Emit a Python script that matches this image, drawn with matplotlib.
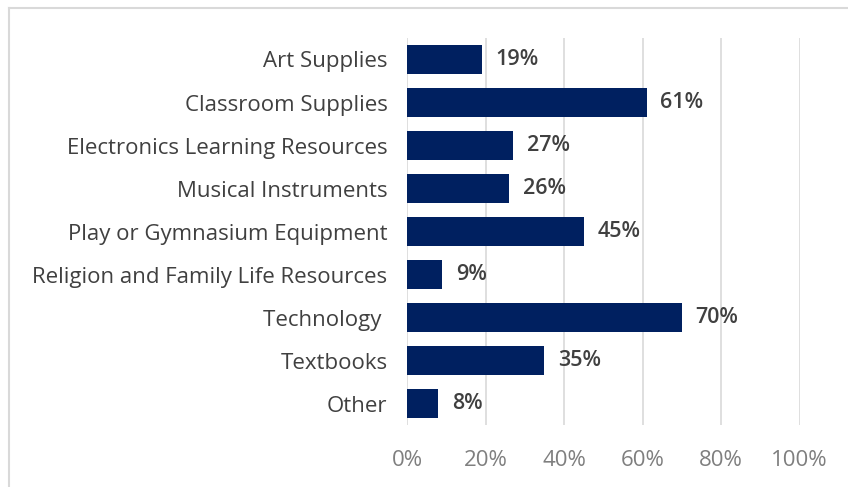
import matplotlib
matplotlib.use("Agg")
import matplotlib.pyplot as plt
from matplotlib.lines import Line2D

categories = [
    "Art Supplies",
    "Classroom Supplies",
    "Electronics Learning Resources",
    "Musical Instruments",
    "Play or Gymnasium Equipment",
    "Religion and Family Life Resources",
    "Technology ",
    "Textbooks",
    "Other",
]
values = [19, 61, 27, 26, 45, 9, 70, 35, 8]
ticks = [0, 20, 40, 60, 80, 100]
tick_labels = ["0%", "20%", "40%", "60%", "80%", "100%"]

plt.rcParams["font.family"] = ["Open Sans", "DejaVu Sans"]

fig = plt.figure(figsize=(8.48, 4.87), dpi=100)
ax = fig.add_axes([0.48, 0.127, 0.463, 0.795])

y = list(range(len(categories)))
ax.barh(y, values, height=0.68, color="#002060")
for yi, v in zip(y, values):
    ax.text(v + 3.5, yi, f"{v}%", va="center", ha="left",
            fontsize=15.5, fontweight="semibold", color="#404040")

ax.set_xlim(0, 100)
ax.set_ylim(len(categories) - 0.5, -0.5)
ax.set_xticks(ticks)
ax.set_xticklabels(tick_labels, fontsize=16, color="#7f7f7f")
ax.set_yticks(y)
ax.set_yticklabels(categories, fontsize=16, color="#404040")
ax.tick_params(axis="both", length=0)
ax.tick_params(axis="x", pad=18)
ax.tick_params(axis="y", pad=14)
ax.grid(axis="x", color="#d9d9d9", linewidth=1.2)
ax.set_axisbelow(True)
for s in ax.spines.values():
    s.set_visible(False)

# outer frame (top and left edges visible)
fig.add_artist(Line2D([9 / 848, 1], [1 - 8 / 487, 1 - 8 / 487],
                      transform=fig.transFigure, color="#d9d9d9", lw=1.5))
fig.add_artist(Line2D([9 / 848, 9 / 848], [0, 1 - 8 / 487],
                      transform=fig.transFigure, color="#d9d9d9", lw=1.5))

fig.savefig("out.png", dpi=100)
